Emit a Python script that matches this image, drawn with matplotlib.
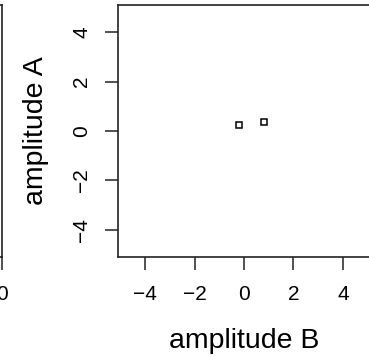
import matplotlib
matplotlib.use("Agg")
import matplotlib.pyplot as plt

# data
amp_b = [-0.19, 0.82]
amp_a = [0.24, 0.38]
ticks = [-4, -2, 0, 2, 4]
lims = (-5.08, 5.08)

W, H = 369, 357
plt.rcParams['font.family'] = ['Liberation Sans', 'DejaVu Sans']

fig = plt.figure(figsize=(W / 100, H / 100), dpi=100)

# main panel, box in pixel units
left, right, top, bottom = 118.3, 369.7, 5.3, 256.7
ax = fig.add_axes([left / W, 1 - bottom / H, (right - left) / W, (bottom - top) / H])
ax.plot(amp_b, amp_a, linestyle='none', marker='s', markersize=4.8,
        markerfacecolor='white', markeredgecolor='black', markeredgewidth=1.1)
ax.set_xlim(lims)
ax.set_ylim(lims)
ax.set_xticks(ticks)
ax.set_yticks(ticks)
ax.set_xticklabels([f"{t}".replace('-', '\u2212') for t in ticks])
ax.set_yticklabels([f"{t}".replace('-', '\u2212') for t in ticks], rotation=90, va='center')
for s in ax.spines.values():
    s.set_linewidth(1.2)
    s.set_color('#222222')
ax.tick_params(direction='out', length=9.5, width=1.1, labelsize=15, pad=11, color='#222222')
ax.tick_params(axis='y', pad=10)
ax.set_xlabel('amplitude B', fontsize=20.5, labelpad=17)
ax.set_ylabel('amplitude A', fontsize=20.5, labelpad=17)

# neighbouring panel, only its right edge shows
edge = 1.8
ax2 = fig.add_axes([-0.5, 1 - bottom / H, 0.5 + edge / W, (bottom - top) / H])
ax2.set_xlim(-10, 0)
ax2.set_ylim(lims)
ax2.set_xticks([0])
ax2.set_xticklabels(['0'])
ax2.set_yticks([])
for s in ax2.spines.values():
    s.set_linewidth(1.2)
    s.set_color('#222222')
ax2.tick_params(direction='out', length=9.5, width=1.1, labelsize=15, pad=11, color='#222222')

fig.savefig('out.png', dpi=100)
